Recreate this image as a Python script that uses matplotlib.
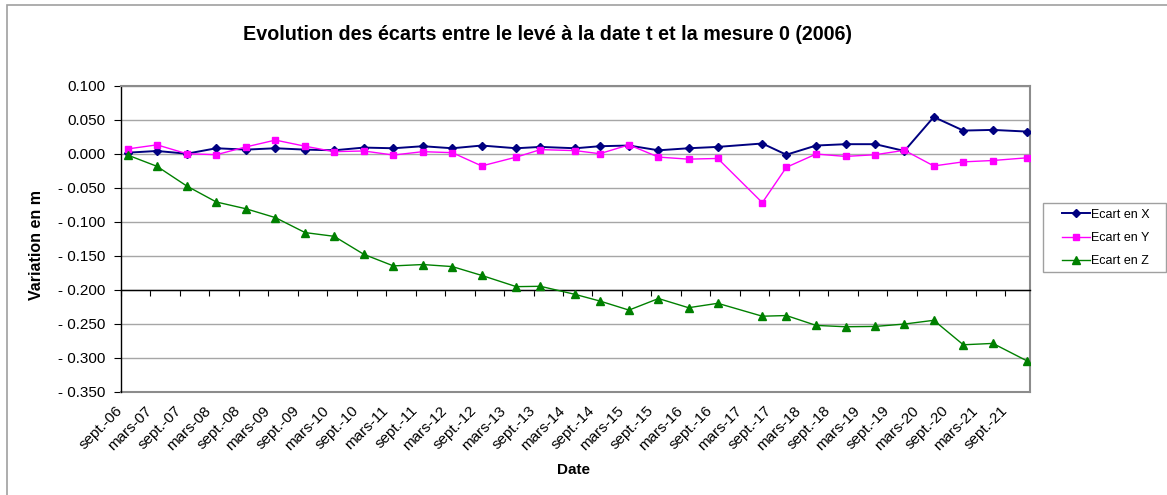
import numpy as np
import matplotlib
matplotlib.use("Agg")
import matplotlib.pyplot as plt
import matplotlib.dates as mdates
from matplotlib.ticker import FixedLocator, FuncFormatter, MultipleLocator
from matplotlib.patches import Rectangle
import datetime as dt

plt.rcParams['font.family'] = ['Liberation Sans', 'DejaVu Sans']

# Survey dates
dates = ['2006-10-14', '2007-04-14', '2007-10-15', '2008-04-15', '2008-10-16',
         '2009-04-16', '2009-10-17', '2010-04-15', '2010-10-16', '2011-04-17',
         '2011-10-16', '2012-04-16', '2012-10-15', '2013-05-17', '2013-10-14',
         '2014-05-18', '2014-10-16', '2015-04-15', '2015-10-15', '2016-04-18',
         '2016-10-16', '2017-07-19', '2017-12-15', '2018-06-17', '2018-12-17',
         '2019-06-19', '2019-12-16', '2020-06-15', '2020-12-15', '2021-06-16',
         '2022-01-16']

# Deviations (m) relative to the 2006 reference measurement
ecart_x = [0.0015, 0.004, 0.000, 0.008, 0.006, 0.008, 0.006, 0.005,
           0.009, 0.008, 0.011, 0.008, 0.012, 0.008, 0.010, 0.008,
           0.011, 0.012, 0.005, 0.008, 0.010, 0.015, -0.0015,
           0.012, 0.014, 0.014, 0.004, 0.054, 0.034, 0.035, 0.0325]
ecart_y = [0.007, 0.013, 0.000, -0.0015, 0.010, 0.020, 0.011, 0.003,
           0.004, -0.002, 0.003, 0.0015, -0.018, -0.005, 0.006, 0.0045,
           0.000, 0.013, -0.005, -0.008, -0.007, -0.072, -0.020,
           -0.0005, -0.004, -0.0015, 0.005, -0.018, -0.012, -0.010, -0.006]
ecart_z = [-0.002, -0.0186, -0.0475, -0.071, -0.081, -0.094, -0.116, -0.1215,
           -0.148, -0.165, -0.163, -0.166, -0.179, -0.1955, -0.195, -0.207,
           -0.2166, -0.230, -0.213, -0.2265, -0.220, -0.239, -0.238, -0.2525,
           -0.2545, -0.254, -0.2505, -0.245, -0.281, -0.279, -0.305]

series_labels = ['Ecart en X', 'Ecart en Y', 'Ecart en Z']
month_names = {9: 'sept.', 3: 'mars'}

title = "Evolution des écarts entre le levé à la date t et la mesure 0 (2006)"
y_title = "Variation en m"
x_title = "Date"

W, H = 1167, 495
fig = plt.figure(figsize=(W / 100, H / 100), dpi=100)

# chart border
fig.patches.append(Rectangle((7 / W, -0.1), 1.2, 1 - 5 / H + 0.1,
                             transform=fig.transFigure, fill=False,
                             edgecolor='#a0a0a0', linewidth=1.2))
# legend frame
fig.patches.append(Rectangle((1043 / W, 1 - 272 / H), 123 / W, 69 / H,
                             transform=fig.transFigure, fill=False,
                             edgecolor='#a0a0a0', linewidth=1.0))

ax = fig.add_axes([120.7 / W, 1 - 391.7 / H, (1030 - 120.7) / W, (391.7 - 85.7) / H])

t = mdates.date2num(np.array(dates, dtype='datetime64[D]'))

ax.plot(t, ecart_x, color='#000080', marker='D', markersize=4.2, linewidth=1.4,
        label=series_labels[0], zorder=3)
ax.plot(t, ecart_y, color='#FF00FF', marker='s', markersize=5, linewidth=1.0,
        label=series_labels[1], zorder=4)
ax.plot(t, ecart_z, color='#008000', marker='^', markersize=5.5, linewidth=1.0,
        label=series_labels[2], zorder=5)

ax.set_ylim(-0.35, 0.10)
ax.set_xlim(mdates.date2num(dt.date(2006, 9, 1)), mdates.date2num(dt.date(2022, 2, 1)))

ax.yaxis.set_major_locator(MultipleLocator(0.05))
ax.yaxis.set_major_formatter(FuncFormatter(
    lambda v, p: f"- {abs(v):.3f}" if v < -1e-9 else f"{abs(v):.3f}"))
ax.grid(axis='y', color='#a6a6a6', linewidth=1.0, zorder=0)
ax.set_axisbelow(True)

# six-monthly ticks: September and March
tick_dates = []
for yr in range(2006, 2022):
    for m in (3, 9):
        d = dt.date(yr, m, 1)
        if dt.date(2006, 9, 1) <= d <= dt.date(2021, 9, 1):
            tick_dates.append(d)
tick_pos = mdates.date2num(tick_dates)
tick_lab = [f"{month_names[d.month]}-{d.year % 100:02d}" for d in tick_dates]

# horizontal axis crosses at -0.2
ax.spines['bottom'].set_position(('data', -0.2))
ax.spines['bottom'].set_color('black')
ax.spines['bottom'].set_linewidth(1.0)
ax.spines['left'].set_color('black')
ax.spines['left'].set_linewidth(1.0)
for s in ('top', 'right'):
    ax.spines[s].set_color('#8c8c8c')
    ax.spines[s].set_linewidth(1.5)
ax.xaxis.set_major_locator(FixedLocator(tick_pos))
ax.tick_params(axis='x', direction='out', length=4, width=0.8, labelbottom=False)
ax.tick_params(axis='y', direction='out', length=5, width=0.8, labelsize=11,
               pad=6, colors='black')

# bottom border of plot area
ax.plot([0, 1], [0, 1e-9], transform=ax.transAxes, color='#8c8c8c', lw=1.5,
        clip_on=False, zorder=1)

# tick labels along the bottom of the plot area
sec = ax.secondary_xaxis('bottom')
sec.spines['bottom'].set_visible(False)
sec.xaxis.set_major_locator(FixedLocator(tick_pos))
sec.set_xticklabels(tick_lab)
sec.tick_params(axis='x', length=0, pad=12, labelsize=11)
for lab in sec.get_xticklabels():
    lab.set_rotation(45)
    lab.set_ha('right')
    lab.set_va('center')
    lab.set_rotation_mode('anchor')

fig.text(547.5 / W, 1 - 34 / H, title, ha='center', va='center',
         fontsize=14.2, fontweight='bold')
fig.text(36.7 / W, 1 - 245 / H, y_title, ha='center', va='center',
         rotation=90, fontsize=11.5, fontweight='bold')
fig.text(573 / W, 1 - 470 / H, x_title, ha='center', va='center',
         fontsize=11, fontweight='bold')

leg = ax.legend(loc='center left', bbox_to_anchor=(1062 / W, 1 - 238 / H),
                bbox_transform=fig.transFigure, fontsize=9,
                frameon=False, handlelength=2.2, labelspacing=0.9,
                borderaxespad=0, handletextpad=0.1, borderpad=0)

fig.savefig('out.png', dpi=100, facecolor='white')
